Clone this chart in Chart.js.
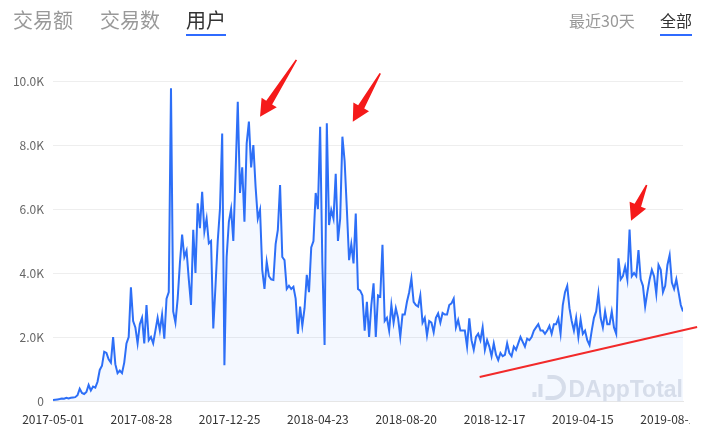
<!DOCTYPE html>
<html>
<head>
<meta charset="utf-8">
<script src="https://cdn.jsdelivr.net/npm/chart.js@4.4.1/dist/chart.umd.min.js"></script>
<style>
html, body { margin: 0; padding: 0; background: #fff; width: 709px; height: 428px; overflow: hidden; }
body { font-family: "Noto Sans CJK SC", "Noto Sans", sans-serif; }
#wrap { position: relative; width: 709px; height: 428px; }
#chart { position: absolute; left: 0; top: 0; }
.tab { position: absolute; top: 6px; font-size: 20px; line-height: 28px; color: #999; white-space: nowrap; }
.tab.small { font-size: 16px; }
.tab.on { color: #333; }
.tab.on:after { content: ""; position: absolute; left: 0; right: 0; top: 28px; height: 2px; background: #2f6bff; }
</style>
</head>
<body>
<div id="wrap">
  <canvas id="chart" width="709" height="428"></canvas>
  <div class="tab" style="left:13px">交易额</div>
  <div class="tab" style="left:100px">交易数</div>
  <div class="tab on" style="left:186px">用户</div>
  <div class="tab small" style="left:569px">最近30天</div>
  <div class="tab small on" style="left:660px">全部</div>
</div>
<script>
// data: users per sample, one sample every 3 days from 2017-05-01
const startDate = Date.UTC(2017, 4, 1);
const stepDays = 3;
const users = [
    30, 40, 50, 60, 80, 70, 100, 80, 100, 110,
    120, 180, 380, 250, 220, 280, 500, 330, 450, 420,
    600, 970, 1100, 1540, 1500, 1300, 1200, 2000, 1150, 870,
    950, 870, 1200, 1800, 2000, 3550, 2500, 2300, 1800, 2400,
    2600, 1800, 3000, 1900, 2000, 1800, 2200, 2600, 2200, 2700,
    1950, 3200, 3400, 9770, 2800, 2450, 3200, 4300, 5200, 4500,
    4700, 3800, 3000, 5350, 4000, 6180, 5400, 6540, 5300, 5700,
    4930, 5000, 2270, 3600, 5000, 6000, 8360, 1120, 4500, 5600,
    6000, 5000, 7100, 9350, 6500, 7300, 5600, 8050, 8730, 7300,
    8000, 6700, 5700, 5970, 4100, 3500, 4350, 3900, 3800, 3780,
    4900, 5350, 6750, 4500, 4400, 3500, 3600, 3500, 3570, 3200,
    2100, 2950, 2350, 2900, 3940, 3400, 4800, 5000, 6500, 6000,
    8570, 4300, 1750, 8680, 5500, 5970, 5700, 7100, 5000, 5700,
    8260, 7500, 6000, 4400, 4900, 4300, 5860, 3500, 3450, 3300,
    2200, 3100, 2000, 3000, 3680, 2000, 3300, 3260, 4880, 2500,
    2600, 2200, 3000, 2450, 2900, 2600, 2000, 2700, 2700, 3100,
    3400, 3830, 3100, 3000, 2950, 3300, 2450, 2600, 2050, 2500,
    2450, 2150, 2600, 2740, 2450, 2750, 2700, 2700, 3000, 3050,
    3200, 2300, 2530, 2200, 2200, 2200, 1700, 2580, 1900, 1600,
    2000, 2100, 1900, 2300, 1600, 1900, 1700, 1400, 1800, 1450,
    1280, 1500, 1400, 1440, 1800, 1500, 1400, 1700, 1600, 1800,
    2000, 1850, 1700, 1950, 1900, 2000, 2200, 2300, 2400, 2200,
    2200, 2100, 2200, 2350, 2100, 2400, 2400, 2580, 2100, 3000,
    3400, 3600, 2900, 2500, 2200, 2600, 2000, 2550, 2100, 2200,
    1900, 1750, 2200, 2600, 2800, 3360, 2600, 2300, 2800, 2400,
    2400, 2800, 2300, 2100, 4460, 3800, 3900, 4200, 3800, 5360,
    3900, 4000, 3900, 4720, 3800, 3600, 2950, 3400, 3800, 4100,
    3900, 3350, 4250, 4100, 3400, 3600, 4250, 4560, 3700, 3500,
    3800, 3400, 3000, 2800
];
const tickStepDays = 119;   // 2017-05-01, 2017-08-28, ...
const yMax = 10000;
const yStep = 2000;

// red annotations drawn on the screenshot: [tailDay, tailValue, tipDay, tipValue]
const arrows = [
    [328, 10660, 279, 8880],
    [441, 10240, 404, 8730],
    [800, 6750, 779, 5630]
];
const trendLine = [575, 750, 868, 2310];

function dayLabel(d) {
    return new Date(startDate + d * 86400000).toISOString().slice(0, 10);
}

const points = users.map((v, i) => ({ x: i * stepDays, y: v }));
const lastDay = (users.length - 1) * stepDays;

const clipPlugin = {
    id: "clip",
    beforeDraw(chart) {
        const ctx = chart.ctx;
        ctx.save();
        ctx.beginPath();
        ctx.rect(0, 0, 690, chart.height);
        ctx.clip();
    },
    beforeDatasetsDraw(chart) {
        // watermark
        const ctx = chart.ctx;
        const a = chart.chartArea;
        ctx.save();
        ctx.fillStyle = "#e0e3e9";
        ctx.font = "bold 23px 'Liberation Sans', Arial, sans-serif";
        ctx.textAlign = "right";
        ctx.textBaseline = "alphabetic";
        const by = a.bottom - 4;
        ctx.fillText("DAppTotal", a.right, by);
        const w = ctx.measureText("DAppTotal").width;
        const lx = a.right - w - 36;
        ctx.fillRect(lx, by - 5, 4, 5);
        ctx.fillRect(lx + 6, by - 13, 4, 13);
        ctx.strokeStyle = "#e0e3e9";
        ctx.lineWidth = 4;
        ctx.beginPath();
        ctx.moveTo(lx + 15, by - 20);
        ctx.lineTo(lx + 21, by - 20);
        ctx.arc(lx + 21, by - 9.5, 10.5, -Math.PI / 2, Math.PI / 2);
        ctx.lineTo(lx + 13, by + 1);
        ctx.stroke();
        ctx.restore();
    },
    afterDraw(chart) {
        const ctx = chart.ctx;
        ctx.restore();
        const xs = chart.scales.x, ys = chart.scales.y;
        ctx.save();
        ctx.fillStyle = "#f51a1a";
        arrows.forEach(ar => {
            const sx = xs.getPixelForValue(ar[0]), sy = ys.getPixelForValue(ar[1]);
            const tx = xs.getPixelForValue(ar[2]), ty = ys.getPixelForValue(ar[3]);
            const len = Math.hypot(tx - sx, ty - sy);
            const ux = (tx - sx) / len, uy = (ty - sy) / len;
            const nx = -uy, ny = ux;
            const bx = tx - ux * 17, by = ty - uy * 17;
            ctx.beginPath();
            ctx.moveTo(sx + nx * 0.8, sy + ny * 0.8);
            ctx.lineTo(bx + nx * 3.5, by + ny * 3.5);
            ctx.lineTo(bx + nx * 9, by + ny * 9);
            ctx.lineTo(tx, ty);
            ctx.lineTo(bx - nx * 9, by - ny * 9);
            ctx.lineTo(bx - nx * 3.5, by - ny * 3.5);
            ctx.lineTo(sx - nx * 0.8, sy - ny * 0.8);
            ctx.closePath();
            ctx.fill();
        });
        ctx.strokeStyle = "#f22a2a";
        ctx.lineWidth = 2;
        ctx.beginPath();
        ctx.moveTo(xs.getPixelForValue(trendLine[0]), ys.getPixelForValue(trendLine[1]));
        ctx.lineTo(xs.getPixelForValue(trendLine[2]), ys.getPixelForValue(trendLine[3]));
        ctx.stroke();
        ctx.restore();
    }
};

new Chart(document.getElementById("chart"), {
    type: "line",
    data: {
        datasets: [{
            data: points,
            borderColor: "#2d6ff7",
            borderWidth: 2,
            pointRadius: 0,
            tension: 0,
            fill: "origin",
            backgroundColor: "rgba(45,111,247,0.05)"
        }]
    },
    options: {
        responsive: false,
        animation: false,
        layout: { padding: { top: 81, right: 26, left: 0, bottom: 0 } },
        plugins: { legend: { display: false }, tooltip: { enabled: false } },
        scales: {
            x: {
                type: "linear",
                min: 0,
                max: lastDay,
                grid: { display: false },
                border: { color: "#e6e6e6" },
                ticks: {
                    stepSize: tickStepDays,
                    includeBounds: false,
                    autoSkip: false,
                    maxRotation: 0,
                    padding: 3,
                    color: "#333",
                    font: { size: 12, family: "'Noto Sans CJK SC', 'Noto Sans', sans-serif" },
                    callback: v => dayLabel(v)
                },
                afterFit: s => { s.height = 27; }
            },
            y: {
                min: 0,
                max: yMax,
                grid: { color: "#eeeeee", drawTicks: false },
                border: { display: false },
                ticks: {
                    stepSize: yStep,
                    padding: 9,
                    color: "#666",
                    font: { size: 12, family: "'Noto Sans CJK SC', 'Noto Sans', sans-serif" },
                    callback: v => v === 0 ? "0" : (v / 1000).toFixed(1) + "K"
                },
                afterFit: s => { s.width = 53; }
            }
        }
    },
    plugins: [clipPlugin]
});
</script>
</body>
</html>
